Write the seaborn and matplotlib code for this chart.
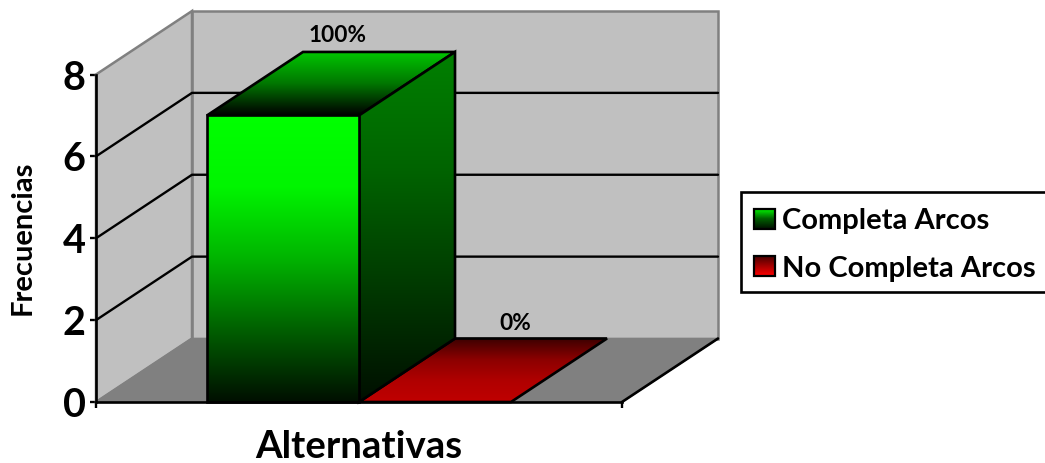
import numpy as np
import pandas as pd
import matplotlib
matplotlib.use("Agg")
import matplotlib.pyplot as plt
import seaborn as sns
from matplotlib.colors import LinearSegmentedColormap
from matplotlib.image import BboxImage
from matplotlib.legend_handler import HandlerBase
from matplotlib.patches import Patch, Polygon, Rectangle
from matplotlib.transforms import Bbox, TransformedBbox

# Survey results
categories = ["Completa Arcos", "No Completa Arcos"]
frequencies = [7, 0]
y_ticks = [0, 2, 4, 6, 8]
x_title = "Alternativas"
y_title = "Frecuencias"

sns.set_theme(style="white")
plt.rcParams["font.family"] = ["Lato", "DejaVu Sans"]
plt.rcParams["font.weight"] = "bold"

W, H = 1045, 463
LEFT, RIGHT, BOTTOM, TOP = 96, 622, 402, 74.5
BAR_PX = 152.0
PX_PER_UNIT = (BOTTOM - TOP) / 8
DEPTH_X = 96 / BAR_PX
DEPTH_Y = 63.5 / PX_PER_UNIT
X0 = -(283 - LEFT) / BAR_PX
X1 = 1 + (RIGHT - 435) / BAR_PX
WALL = "#c0c0c0"
FLOOR = "#808080"
EDGE_W = 1.9

GREEN_FRONT = ["#00ff00", "#00f500", "#00b400", "#005f00", "#000f00"]
GREEN_SIDE = ["#008000", "#006400", "#003a00", "#000f00"]
GREEN_TOP = ["#00c800", "#007800", "#000000"]
RED_TOP = ["#3c0000", "#8c0000", "#b00000", "#c00000"]
GREEN_KEY = ["#00ff00", "#006000", "#001000"]
RED_KEY = ["#400000", "#a00000", "#ff0000"]


def cmap_of(colors):
    return LinearSegmentedColormap.from_list("face", colors)


def gradient_face(ax, corners, colors, zorder):
    """Fill a polygon given in data coordinates with a vertical gradient."""
    corners = np.asarray(corners, dtype=float)
    clip = Polygon(corners, closed=True, transform=ax.transData)
    extent = (corners[:, 0].min(), corners[:, 0].max(),
              corners[:, 1].min(), corners[:, 1].max())
    img = ax.imshow(np.linspace(0, 1, 256)[:, None], cmap=cmap_of(colors),
                    extent=extent, origin="upper", aspect="auto", zorder=zorder)
    img.set_clip_path(clip)
    img.set_clip_box(ax.figure.bbox)
    ax.add_patch(Polygon(corners, closed=True, fill=False, edgecolor="black",
                         linewidth=EDGE_W, joinstyle="miter", clip_on=False,
                         zorder=zorder + 0.1))


def back(x, y):
    return (x + DEPTH_X, y + DEPTH_Y)


class GradientKey(HandlerBase):
    def __init__(self, colors):
        super().__init__()
        self.colors = colors

    def create_artists(self, legend, orig, xd, yd, width, height, fontsize, trans):
        drop = 2.0
        box = TransformedBbox(Bbox.from_bounds(-xd, -yd - drop, width, height), trans)
        img = BboxImage(box, cmap=cmap_of(self.colors), origin="upper")
        img.set_data(np.linspace(0, 1, 64)[:, None])
        frame = Rectangle((-xd, -yd - drop), width, height, fill=False,
                          edgecolor="black", linewidth=1.6, transform=trans)
        return [img, frame]


fig = plt.figure(figsize=(W / 100, H / 100), dpi=100, facecolor="white")
ax = fig.add_axes([LEFT / W, (H - BOTTOM) / H, (RIGHT - LEFT) / W, (BOTTOM - TOP) / H])
ax.patch.set_visible(False)

df = pd.DataFrame({"alternativa": categories, "frecuencia": frequencies})
sns.barplot(data=df, x="alternativa", y="frecuencia", hue="alternativa",
            palette=["#00ff00", "#bc0000"], width=1.0, saturation=1,
            legend=False, ax=ax, zorder=6)

# Room behind the bars: back wall, side wall and floor
ymax = y_ticks[-1]
ax.add_patch(Polygon([back(X0, 0), back(X1, 0), back(X1, ymax), back(X0, ymax)],
                     facecolor=WALL, edgecolor=FLOOR, linewidth=1.8, clip_on=False, zorder=1))
ax.add_patch(Polygon([(X0, 0), back(X0, 0), back(X0, ymax), (X0, ymax)],
                     facecolor=WALL, edgecolor=FLOOR, linewidth=1.8, clip_on=False, zorder=1.1))
ax.add_patch(Polygon([(X0, 0), (X1, 0), back(X1, 0), back(X0, 0)],
                     facecolor=FLOOR, edgecolor=FLOOR, linewidth=1.2, clip_on=False, zorder=1.2))
ax.plot([X1, back(X1, 0)[0]], [0, back(X1, 0)[1]], color="black", lw=EDGE_W, clip_on=False, zorder=1.3)
for t in y_ticks[1:-1]:
    bx, by = back(X0, t)
    ax.plot([X0, bx, back(X1, t)[0]], [t, by, by], color="black", lw=1.7,
            clip_on=False, zorder=1.5)

# Box faces built on the drawn bars, red first so the green box covers it
faces = [(p.get_x(), p.get_width(), p.get_height()) for p in ax.patches[:2]]
total = sum(frequencies)
for (x, w, h), tone in zip(faces[::-1], ("red", "green")):
    if tone == "red":
        gradient_face(ax, [(x, 0), (x + w, 0), back(x + w, 0), back(x, 0)], RED_TOP, 2)
    else:
        gradient_face(ax, [(x, h), (x + w, h), back(x + w, h), back(x, h)], GREEN_TOP, 3)
        gradient_face(ax, [(x + w, 0), back(x + w, 0), back(x + w, h), (x + w, h)], GREEN_SIDE, 3.2)
        gradient_face(ax, [(x, 0), (x + w, 0), (x + w, h), (x, h)], GREEN_FRONT, 3.4)

for p in ax.patches[:2]:
    p.set_visible(False)

# Percentage labels
label_pos = [(0.36, 1.95), (0.53, 1.91)]
for i, (value, (dx, dy)) in enumerate(zip(frequencies, label_pos)):
    ax.text(i + dx, value + dy, f"{value / total:.0%}", ha="center", va="center",
            fontsize=16.3, fontweight="bold", color="black", clip_on=False, zorder=8)

ax.set_xlim(X0, X1)
ax.set_ylim(0, ymax)
ax.set_yticks(y_ticks)
ax.set_xticks([X0, X1])
ax.set_xticklabels(["", ""])
ax.tick_params(axis="both", direction="out", length=4.5, width=1.7, color="black", bottom=True, left=True)
ax.tick_params(axis="y", labelsize=28.5, pad=3, labelcolor="black")
for side, spine in ax.spines.items():
    spine.set_visible(side in ("left", "bottom"))
    spine.set_color("black")
    spine.set_linewidth(EDGE_W)
    spine.set_zorder(5)
for label in ax.get_yticklabels():
    label.set_fontweight("bold")

ax.set_xlabel(x_title, fontsize=27.6, fontweight="bold", color="black", labelpad=12)
ax.set_ylabel("")
fig.text(22.5 / W, 1 - 238 / H, y_title, rotation=90, ha="center", va="center",
         fontsize=21, fontweight="bold", color="black")

key_a, key_b = Patch(), Patch()
legend = fig.legend(
    [key_a, key_b], categories,
    handler_map={key_a: GradientKey(GREEN_KEY), key_b: GradientKey(RED_KEY)},
    loc="center left", bbox_to_anchor=(741 / W, 1 - 242 / H),
    fontsize=21, frameon=True, fancybox=False, edgecolor="black", framealpha=1,
    handlelength=0.72, handleheight=0.7, handletextpad=0.22, labelspacing=0.72,
    borderpad=0.45, borderaxespad=0,
)
legend.get_frame().set_linewidth(EDGE_W)
for txt in legend.get_texts():
    txt.set_fontweight("bold")
    txt.set_color("black")
    txt.set_y(-3)

fig.savefig("out.png", dpi=100)
